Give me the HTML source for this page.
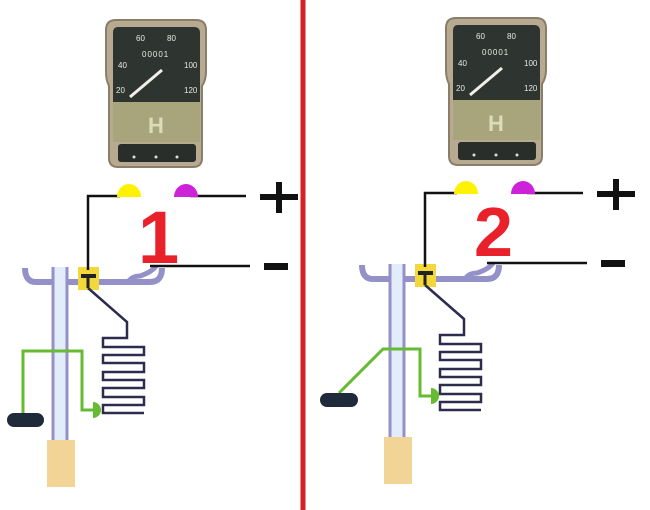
<!DOCTYPE html>
<html><head><meta charset="utf-8"><style>
html,body{margin:0;padding:0;background:#fff;width:650px;height:510px;overflow:hidden}
</style></head><body>
<svg width="650" height="510" viewBox="0 0 650 510" xmlns="http://www.w3.org/2000/svg">
<defs>
<g id="speedo">
  <path d="M2 10 Q2 0 12 0 L92 0 Q102 0 102 10 L102 52 Q102 60 98 66 L98 138 Q98 147 89 147 L14 147 Q5 147 5 138 L5 66 Q2 60 2 52 Z" fill="#b8aa90" stroke="#8a7e6a" stroke-width="2"/>
  <path d="M14 7 L90 7 Q96 7 96 13 L96 82 L9 82 L9 13 Q9 7 14 7 Z" fill="#2e3531"/>
  <rect x="9" y="82" width="87" height="40" fill="#a8a57c"/>
  <rect x="14" y="124" width="78" height="18" rx="3" fill="#2a2e2a"/>
  <g fill="#e8e8e0" font-family="Liberation Sans, sans-serif" font-size="8">
    <text x="32" y="21">60</text><text x="63" y="21">80</text>
    <text x="14" y="48">40</text><text x="80" y="48">100</text>
    <text x="12" y="73">20</text><text x="80" y="73">120</text>
    <text x="38" y="37" font-size="8" letter-spacing="1">00001</text>
  </g>
  <line x1="26" y1="77" x2="58" y2="50" stroke="#f0f0e8" stroke-width="3"/>
  <text x="44" y="113" fill="#dcdcb8" font-family="Liberation Sans, sans-serif" font-size="22" font-weight="bold">H</text>
  <circle cx="30" cy="137" r="1.5" fill="#ddd"/><circle cx="52" cy="137" r="1.5" fill="#ddd"/><circle cx="73" cy="137" r="1.5" fill="#ddd"/>
</g>
<g id="mech">
  <path d="M25 268 Q25 282 36 282 L150 282 Q162 282 162 268" fill="none" stroke="#9490c8" stroke-width="6"/>
  <path d="M128 282 Q132 276 140 276 Q152 272 156 266" fill="none" stroke="#9490c8" stroke-width="5"/>
  <rect x="53" y="267" width="14" height="174" fill="#e2ecfa"/>
  <line x1="53" y1="267" x2="53" y2="441" stroke="#9490c8" stroke-width="3"/>
  <line x1="67" y1="267" x2="67" y2="441" stroke="#9490c8" stroke-width="3"/>
  <rect x="47" y="440" width="28" height="47" fill="#f2d596"/>
  <rect x="78" y="267" width="21" height="23" fill="#f2d83a"/>
  <rect x="81" y="274" width="15" height="4" fill="#222"/>
  <line x1="88" y1="278" x2="88" y2="288" stroke="#222" stroke-width="3"/>
  <polyline points="88,288 127,322 127,338 103,338 103,347 144,347 144,355 103,355 103,363 144,363 144,372 103,372 103,380 144,380 144,388 103,388 103,397 144,397 144,405 103,405 103,413 144,413" fill="none" stroke="#2d2b4e" stroke-width="2.5"/>
  <polyline points="88,270 88,196 120,196" fill="none" stroke="#111" stroke-width="2.5"/>
  <line x1="190" y1="196" x2="246" y2="196" stroke="#111" stroke-width="2.5"/>
  <line x1="150" y1="266" x2="250" y2="266" stroke="#111" stroke-width="2.5"/>
  <path d="M117 197 A12 13 0 0 1 141 197 Z" fill="#fff200"/>
  <path d="M174 197 A12 13 0 0 1 198 197 Z" fill="#cc22d8"/>
  <rect x="260" y="194" width="38" height="6" fill="#111"/>
  <rect x="276" y="182" width="6" height="31" fill="#111"/>
  <rect x="264" y="263" width="24" height="7" fill="#111"/>
</g>
</defs>

<line x1="303" y1="0" x2="303" y2="510" stroke="#d42026" stroke-width="5"/>

<use href="#speedo" transform="translate(104,20)"/>
<use href="#speedo" transform="translate(444,18)"/>

<use href="#mech"/>
<use href="#mech" transform="translate(337,-3)"/>

<polyline points="23,414 23,351 82,351 82,410 93,410" fill="none" stroke="#66bb33" stroke-width="3"/>
<path d="M93 402 A8 8 0 0 1 93 418 Z" fill="#66bb33"/>
<rect x="7" y="413" width="37" height="14" rx="7" fill="#1f2a3a"/>

<polyline points="339,393 383,349 420,349 420,396 431,396" fill="none" stroke="#66bb33" stroke-width="3"/>
<path d="M431 388 A8 8 0 0 1 431 404 Z" fill="#66bb33"/>
<rect x="320" y="393" width="38" height="14" rx="7" fill="#1f2a3a"/>

<text x="138" y="263" fill="#e8212a" font-family="Liberation Sans, sans-serif" font-size="74" font-weight="bold">1</text>
<text x="474" y="256" fill="#e8212a" font-family="Liberation Sans, sans-serif" font-size="70" font-weight="bold">2</text>
</svg>
</body></html>
